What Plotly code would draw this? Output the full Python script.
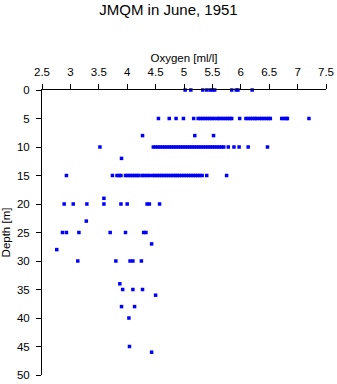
import plotly.graph_objects as go

# Depth levels [m] and oxygen readings [ml/l] at each level
depths = [0, 5, 8, 10, 12, 15, 19, 20, 23, 25, 27, 28, 30, 34, 35, 36, 38, 40, 45, 46]

oxy_0m = [5.02, 5.12, 5.33, 5.40, 5.46, 5.50, 5.54, 5.84, 5.92, 5.95, 6.20]
oxy_5m = [4.55, 4.74, 4.86, 4.99, 5.17,
          5.25, 5.29, 5.33, 5.37, 5.41, 5.45, 5.49, 5.53, 5.58,
          5.61, 5.65, 5.69, 5.73, 5.77, 5.81, 5.84, 5.98,
          6.09, 6.13, 6.17, 6.21, 6.25, 6.28,
          6.33, 6.37, 6.41, 6.45, 6.49, 6.52,
          6.72, 6.76, 6.80, 6.82, 7.20]
oxy_8m = [4.27, 5.19, 5.52]
oxy_10m = [3.52,
           4.46, 4.50, 4.54, 4.58, 4.62, 4.66, 4.70, 4.74, 4.78, 4.82, 4.86,
           4.90, 4.94, 4.98, 5.02, 5.06, 5.10, 5.14, 5.18, 5.22, 5.26, 5.30,
           5.34, 5.38, 5.42, 5.46, 5.50, 5.54, 5.58, 5.62, 5.66, 5.70,
           5.78, 5.88, 5.97, 6.13, 6.47]
oxy_12m = [3.90]
oxy_15m = [2.93, 3.74, 3.82, 3.86, 3.89,
           3.97, 4.01, 4.05, 4.09, 4.13, 4.17, 4.20,
           4.26, 4.30, 4.35, 4.39,
           4.45, 4.49, 4.53, 4.57, 4.61, 4.65, 4.69, 4.73, 4.77, 4.81, 4.85, 4.88,
           4.92, 4.96, 5.00, 5.04, 5.08, 5.12, 5.16, 5.20, 5.24, 5.28, 5.32,
           5.40, 5.75]
oxy_19m = [3.59]
oxy_20m = [2.89, 3.05, 3.29, 3.59, 3.89, 4.00, 4.35, 4.39, 4.57]
oxy_23m = [3.28]
oxy_25m = [2.86, 2.93, 3.15, 3.70, 3.97, 4.29, 4.33]
oxy_27m = [4.43]
oxy_28m = [2.76]
oxy_30m = [3.13, 3.80, 4.05, 4.10, 4.25]
oxy_34m = [3.87]
oxy_35m = [3.92, 4.10, 4.27]
oxy_36m = [4.50]
oxy_38m = [3.90, 4.13]
oxy_40m = [4.03]
oxy_45m = [4.04]
oxy_46m = [4.43]

rows = [oxy_0m, oxy_5m, oxy_8m, oxy_10m, oxy_12m, oxy_15m, oxy_19m, oxy_20m,
        oxy_23m, oxy_25m, oxy_27m, oxy_28m, oxy_30m, oxy_34m, oxy_35m, oxy_36m,
        oxy_38m, oxy_40m, oxy_45m, oxy_46m]

x_vals, y_vals = [], []
for d, r in zip(depths, rows):
    x_vals += r
    y_vals += [d] * len(r)

x_ticks = [2.5, 3, 3.5, 4, 4.5, 5, 5.5, 6, 6.5, 7, 7.5]
y_ticks = [0, 5, 10, 15, 20, 25, 30, 35, 40, 45, 50]

FONT = "Liberation Sans, Arial, sans-serif"

fig = go.Figure(go.Scatter(
    x=x_vals, y=y_vals, mode="markers",
    marker=dict(symbol="square", size=3.5, color="#0000ff", line=dict(width=0)),
    cliponaxis=False, showlegend=False,
))

axis_common = dict(
    showgrid=False, zeroline=False, showline=True, linecolor="black", linewidth=1,
    ticks="outside", ticklen=5, tickwidth=1, tickcolor="black",
    tickfont=dict(family=FONT, size=11.5, color="black"),
    automargin=False,
)

fig.update_layout(
    width=337, height=384,
    margin=dict(l=42, r=11, t=90, b=9),
    paper_bgcolor="white", plot_bgcolor="white",
    font=dict(family=FONT, color="black"),
    title=dict(text="JMQM in June, 1951", x=0.5, xanchor="center",
               y=1 - 9.5 / 384, yanchor="middle", yref="container",
               font=dict(family=FONT, size=15, color="black")),
    xaxis=dict(range=[2.5, 7.5], side="top", tickvals=x_ticks,
               ticktext=[f"{v:g}" for v in x_ticks], ticklabelstandoff=3,
               title=dict(text="Oxygen [ml/l]", standoff=1,
                          font=dict(family=FONT, size=11.5, color="black")),
               **axis_common),
    yaxis=dict(range=[50, 0], tickvals=y_ticks,
               ticktext=[str(v) for v in y_ticks], ticklabelstandoff=4,
               title=dict(text="Depth [m]", standoff=6,
                          font=dict(family=FONT, size=11.5, color="black")),
               **axis_common),
)

fig.write_html("out.html")
